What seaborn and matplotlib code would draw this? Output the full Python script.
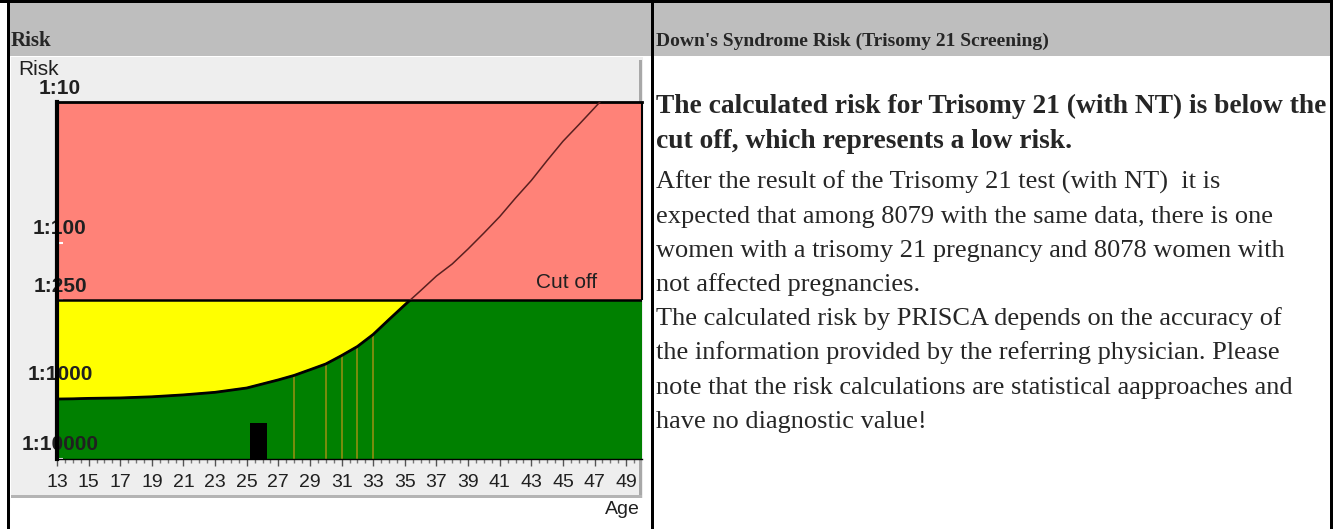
import matplotlib
matplotlib.use("Agg")
import matplotlib.pyplot as plt
import numpy as np
import pandas as pd
import seaborn as sns
from matplotlib.patches import Rectangle
from matplotlib.ticker import NullLocator

sns.set_theme(style="white")
plt.rcParams["font.family"] = ["Liberation Sans", "DejaVu Sans"]

W, H = 1333, 529

# age related risk curve, risk given as 1:n
ages = [13, 14, 15, 17, 19, 21, 23, 25, 27, 28, 29, 30, 31, 32, 33, 34, 35,
        36, 37, 38, 39, 40, 41, 42, 43, 44, 45, 46, 47, 48]
risk_n = [1430, 1420, 1400, 1380, 1330, 1250, 1150, 1000, 880, 820, 750, 685,
          600, 520, 430, 340, 270, 215, 170, 140, 110, 85, 65, 48, 36, 26, 19,
          14.5, 11, 8.3]

cutoff = 250
marker_ages = [28, 30, 31, 32, 33]
patient_age = 25.75
patient_width = 1.1
patient_risk = 3100

y_ticks = [10, 100, 250, 1000, 10000]
y_labels = ["1:10", "1:100", "1:250", "1:1000", "1:10000"]
x_ticks = list(range(13, 50, 2))

header_left = "Risk"
header_right = "Down's Syndrome Risk (Trisomy 21 Screening)"
bold_lines = [
    "The calculated risk for Trisomy 21 (with NT) is below the",
    "cut off, which represents a low risk.",
]
body_lines = [
    "After the result of the Trisomy 21 test (with NT)  it is",
    "expected that among 8079 with the same data, there is one",
    "women with a trisomy 21 pregnancy and 8078 women with",
    "not affected pregnancies.",
    "The calculated risk by PRISCA depends on the accuracy of",
    "the information provided by the referring physician. Please",
    "note that the risk calculations are statistical aapproaches and",
    "have no diagnostic value!",
]

# the risk axis is log spaced, but squeezed below 1:1000
SCALE_LOG = [1, 2, np.log10(250), 3, 4]
SCALE_POS = [0, 141, 198, 286, 357]


def fwd(n):
    lg = np.log10(np.maximum(np.asarray(n, dtype=float), 1e-6))
    pos = np.interp(lg, SCALE_LOG, SCALE_POS)
    pos = np.where(lg < 1, (lg - 1) * 141, pos)
    pos = np.where(lg > 4, 357 + (lg - 4) * 71, pos)
    return pos


def inv(p):
    p = np.asarray(p, dtype=float)
    lg = np.interp(p, SCALE_POS, SCALE_LOG)
    lg = np.where(p < 0, 1 + p / 141, lg)
    lg = np.where(p > 357, 4 + (p - 357) / 71, lg)
    return 10 ** lg


def px_rect(fig, x0, y0, x1, y1, color, z=0):
    fig.add_artist(Rectangle((x0 / W, 1 - y1 / H), (x1 - x0) / W, (y1 - y0) / H,
                             transform=fig.transFigure, facecolor=color,
                             edgecolor="none", zorder=z))


def px_text(fig, x, y, s, **kw):
    fig.text(x / W, 1 - y / H, s, **kw)


fig = plt.figure(figsize=(W / 100, H / 100), dpi=100)
fig.patch.set_facecolor("white")

# table look: header band and borders
px_rect(fig, 10, 3, 651, 56, "#BEBEBE")
px_rect(fig, 654, 3, 1330, 56, "#BEBEBE")
px_rect(fig, 0, 0, W, 3, "black")
px_rect(fig, 7, 0, 10, H, "black")
px_rect(fig, 651, 0, 654, H, "black")
px_rect(fig, 1330, 0, W, H, "black")

# chart frame
px_rect(fig, 11, 57, 643, 498, "#EEEEEE")
px_rect(fig, 639, 60, 642, 498, "#A8A8A8")
px_rect(fig, 11, 495, 642, 498, "#B4B4B4")

serif = ["Liberation Serif", "DejaVu Serif"]
px_text(fig, 11, 46, header_left, family=serif, fontsize=15, fontweight="bold",
        va="baseline")
px_text(fig, 656, 46, header_right, family=serif, fontsize=14,
        fontweight="bold", va="baseline")
for i, line in enumerate(bold_lines):
    px_text(fig, 656, 113 + i * 34.5, line, family=serif, fontsize=19.8,
            fontweight="bold", va="baseline")
for i, line in enumerate(body_lines):
    px_text(fig, 656, 189 + i * 34.1, line, family=serif, fontsize=19,
            va="baseline")

px_text(fig, 18, 70, "Risk", fontsize=15, va="center", color="#202020")
px_text(fig, 640, 510, "Age", fontsize=14, va="center", ha="right",
        color="#202020")

ax = fig.add_axes([57 / W, 1 - 459 / H, (642 - 57) / W, (459 - 102) / H])
ax.set_zorder(2)
ax.set_yscale("function", functions=(fwd, inv))
ax.set_xlim(13, 50)
ax.set_ylim(10000, 10)

df = pd.DataFrame({"age": ages, "risk": risk_n})

ax.axhspan(10, cutoff, color="#FF8278", lw=0, zorder=0.5)
ax.axhspan(cutoff, 10000, color="#008000", lw=0, zorder=0.5)
ax.fill_between(df["age"], df["risk"], cutoff, where=df["risk"] >= cutoff,
                interpolate=True, color="#FFFF00", lw=0, zorder=0.6)

curve = dict(zip(ages, risk_n))
ax.vlines(marker_ages, [curve[a] for a in marker_ages], 10000,
          color="#8F8F10", lw=1.2, zorder=0.7)
ax.bar(patient_age, patient_risk - 10000, bottom=10000, width=patient_width,
       color="black", edgecolor="none", linewidth=0, zorder=0.8)

# curve: thin dark line in the red zone, black border below the cut off
sns.lineplot(data=df, x="age", y="risk", color="#5A2020", lw=1.1, ax=ax,
             zorder=3)
n_before = len(ax.lines)
sns.lineplot(data=df, x="age", y="risk", color="black", lw=2, ax=ax, zorder=3)
for ln in ax.lines[n_before:]:
    ln.set_clip_path(Rectangle((13, cutoff), 37, 10000 - cutoff,
                               transform=ax.transData))

ax.axhline(cutoff, color="black", lw=1.8, zorder=2.6)
ax.vlines(50, 10, cutoff, color="black", lw=1.5, clip_on=False, zorder=2.6)

for side, lw in [("left", 3), ("top", 2), ("bottom", 1)]:
    ax.spines[side].set_visible(True)
    ax.spines[side].set_color("black")
    ax.spines[side].set_linewidth(lw)
ax.spines["right"].set_visible(False)

ax.set_xticks(x_ticks)
ax.set_xticks(np.arange(13, 50, 0.5), minor=True)
ax.tick_params(axis="x", which="major", bottom=True, length=5, width=1,
               color="#555555", pad=6, labelsize=14, labelcolor="#202020")
ax.tick_params(axis="x", which="minor", bottom=True, length=3, width=1,
               color="#777777")
ax.set_yticks(y_ticks, labels=[""] * len(y_ticks))
ax.yaxis.set_minor_locator(NullLocator())
ax.tick_params(axis="y", left=True, direction="in", length=4, width=1.5,
               color="white")
ax.set_xlabel("")
ax.set_ylabel("")

for n, lab in zip(y_ticks, y_labels):
    ax.annotate(lab, xy=(0, n), xycoords=("axes fraction", "data"),
                xytext=(3, 14), textcoords="offset pixels", ha="center",
                va="center", fontsize=15, fontweight="bold",
                color="#202020", annotation_clip=False, zorder=2.2)

ax.annotate("Cut off", xy=(1, cutoff), xycoords=("axes fraction", "data"),
            xytext=(-45, 18), textcoords="offset pixels", ha="right",
            va="center", fontsize=15, color="#202020",
            annotation_clip=False)

fig.savefig("out.png", dpi=100)
plt.close(fig)
